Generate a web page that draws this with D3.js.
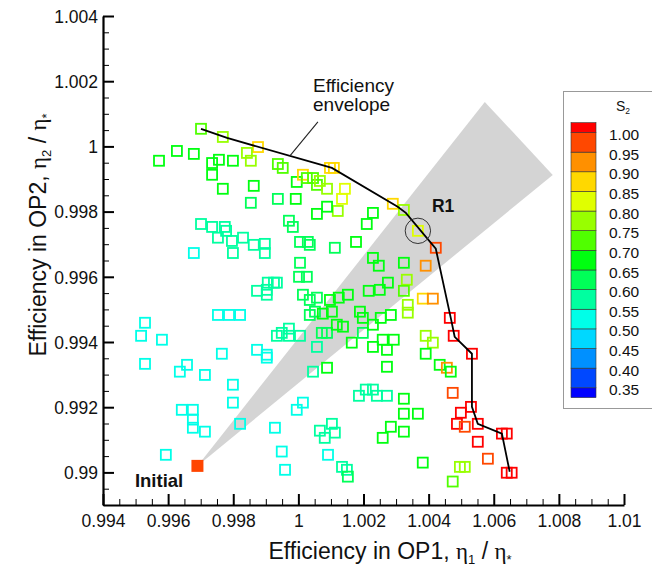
<!DOCTYPE html>
<html><head><meta charset="utf-8">
<script src="https://cdn.jsdelivr.net/npm/d3@7"></script>
<style>body{margin:0;background:#fff}svg{display:block}text{font-family:"Liberation Sans",Arial,sans-serif}</style>
</head><body>
<svg id="c" width="652" height="571"></svg>
<script>
// ---- data ----
const xTicks = [0.994,0.996,0.998,1.000,1.002,1.004,1.006,1.008,1.010];
const xTickLabels = ["0.994","0.996","0.998","1","1.002","1.004","1.006","1.008","1.01"];
const yTicks = [0.990,0.992,0.994,0.996,0.998,1.000,1.002,1.004];
const yTickLabels = ["0.99","0.992","0.994","0.996","0.998","1","1.002","1.004"];
const legendLabels = ["1.00","0.95","0.90","0.85","0.80","0.75","0.70","0.65","0.60","0.55","0.50","0.45","0.40","0.35"];
const levelThresholds = [0.35,0.40,0.45,0.50,0.55,0.60,0.65,0.70,0.75,0.80,0.85,0.90,0.95,1.00];
const levelColors = ["#0000ff","#0048ff","#0090ff","#00d8ff","#00ffe8","#00ffa0","#00ff58","#00ff10","#50ff00","#98ff00","#e0ff00","#ffd800","#ff9000","#ff4800","#ff0000"];
// [eta1, eta2, S2]
const designPoints = [
[0.99701,1.00054,0.72],[0.99768,1.00029,0.77],[0.99876,0.99998,0.87],[0.99842,0.99980,0.77],[0.99854,0.99956,0.77],
[0.99572,0.99956,0.67],[0.99627,0.99986,0.67],[0.99679,0.99977,0.67],[0.99735,0.99949,0.67],[0.99756,0.99959,0.67],
[0.99799,0.99956,0.67],[0.99735,0.99913,0.67],[0.99768,0.99870,0.67],[0.99937,0.99946,0.72],[0.99952,0.99934,0.72],
[0.99863,0.99879,0.67],[0.99854,0.99827,0.62],[0.99937,0.99839,0.62],[0.99992,0.99839,0.67],[0.99995,0.99891,0.67],
[1.00014,0.99913,0.87],[1.00026,0.99903,0.72],[1.00045,0.99903,0.72],[1.00057,0.99882,0.72],[1.00066,0.99894,0.77],
[1.00088,0.99870,0.77],[1.00097,0.99934,0.87],[1.00109,0.99934,0.87],[1.00143,0.99870,0.82],[1.00134,0.99839,0.82],
[1.00121,0.99802,0.77],[1.00088,0.99815,0.67],[1.00057,0.99793,0.67],[0.99971,0.99772,0.62],[0.99983,0.99753,0.62],
[1.00005,0.99707,0.62],[1.00029,0.99707,0.62],[1.00035,0.99698,0.62],[1.00112,0.99689,0.62],[1.00177,0.99707,0.67],
[1.00210,0.99762,0.67],[1.00229,0.99796,0.67],[0.99701,0.99762,0.57],[0.99735,0.99753,0.57],[0.99774,0.99753,0.57],
[0.99778,0.99741,0.57],[0.99753,0.99720,0.57],[0.99796,0.99710,0.57],[0.99830,0.99720,0.57],[0.99799,0.99673,0.57],
[0.99863,0.99698,0.57],[0.99897,0.99701,0.57],[0.99897,0.99673,0.57],[0.99679,0.99673,0.52],[1.00290,0.99824,0.87],
[1.00324,0.99805,0.77],[1.00367,0.99741,0.82],[1.00422,0.99689,0.97],[1.00229,0.99658,0.67],[1.00247,0.99634,0.67],
[1.00324,0.99643,0.67],[1.00391,0.99634,0.92],[1.00333,0.99591,0.77],[1.00275,0.99582,0.67],[1.00250,0.99560,0.67],
[1.00216,0.99557,0.67],[1.00324,0.99557,0.72],[1.00382,0.99533,0.87],[1.00413,0.99533,0.92],[1.00152,0.99545,0.67],
[1.00124,0.99536,0.67],[1.00097,0.99529,0.67],[1.00057,0.99536,0.62],[1.00014,0.99545,0.62],[1.00035,0.99529,0.62],
[1.00005,0.99643,0.62],[1.00002,0.99600,0.62],[1.00026,0.99600,0.62],[0.99906,0.99582,0.57],[0.99925,0.99582,0.57],
[0.99934,0.99582,0.57],[0.99873,0.99557,0.57],[0.99903,0.99560,0.57],[0.99903,0.99545,0.57],[1.00035,0.99483,0.62],
[1.00051,0.99493,0.62],[1.00075,0.99487,0.67],[1.00103,0.99493,0.67],[1.00189,0.99493,0.67],[1.00198,0.99474,0.67],
[0.99753,0.99483,0.52],[0.99787,0.99483,0.52],[0.99821,0.99483,0.52],[0.99529,0.99459,0.52],[0.99517,0.99419,0.52],
[0.99581,0.99407,0.52],[0.99949,0.99428,0.57],[0.99934,0.99419,0.57],[0.99971,0.99441,0.57],[0.99971,0.99419,0.57],
[1.00005,0.99419,0.57],[1.00072,0.99428,0.62],[1.00088,0.99428,0.62],[1.00118,0.99453,0.67],[1.00137,0.99447,0.67],
[1.00164,0.99398,0.67],[1.00198,0.99428,0.62],[1.00057,0.99385,0.57],[0.99529,0.99333,0.52],[0.99636,0.99309,0.52],
[0.99658,0.99330,0.52],[0.99713,0.99299,0.52],[0.99765,0.99364,0.52],[0.99873,0.99376,0.52],[0.99903,0.99361,0.52],
[0.99903,0.99352,0.52],[1.00045,0.99309,0.57],[1.00088,0.99321,0.67],[0.99799,0.99269,0.52],[0.99799,0.99214,0.52],
[0.99642,0.99192,0.52],[0.99676,0.99192,0.52],[0.99676,0.99162,0.52],[0.99676,0.99137,0.52],[0.99713,0.99125,0.52],
[0.99821,0.99149,0.52],[0.99928,0.99137,0.52],[0.99995,0.99192,0.52],[1.00014,0.99214,0.52],[1.00066,0.99128,0.57],
[1.00103,0.99149,0.57],[1.00112,0.99122,0.57],[1.00081,0.99106,0.57],[1.00186,0.99235,0.57],[1.00207,0.99254,0.57],
[1.00229,0.99254,0.57],[1.00241,0.99235,0.57],[1.00272,0.99235,0.57],[0.99593,0.99054,0.52],[0.99949,0.99064,0.52],
[0.99959,0.99008,0.52],[1.00091,0.99054,0.52],[1.00134,0.99017,0.57],[1.00149,0.99008,0.57],[1.00152,0.98987,0.62],
[1.00259,0.99106,0.67],[1.00336,0.99514,0.77],[1.00336,0.99490,0.77],[1.00229,0.99453,0.67],[1.00253,0.99474,0.67],
[1.00284,0.99483,0.67],[1.00229,0.99385,0.67],[1.00259,0.99407,0.67],[1.00293,0.99407,0.67],[1.00272,0.99376,0.67],
[1.00391,0.99419,0.77],[1.00413,0.99398,0.77],[1.00391,0.99364,0.67],[1.00434,0.99330,0.67],[1.00456,0.99321,0.92],
[1.00468,0.99309,0.67],[1.00465,0.99474,1.01],[1.00477,0.99419,1.01],[1.00533,0.99364,1.01],[1.00272,0.99324,0.67],
[1.00474,0.99244,0.97],[1.00324,0.99226,0.67],[1.00324,0.99180,0.67],[1.00367,0.99180,0.67],[1.00284,0.99140,0.67],
[1.00324,0.99125,0.67],[1.00530,0.99201,1.01],[1.00499,0.99183,1.01],[1.00487,0.99149,1.01],[1.00511,0.99140,0.97],
[1.00551,0.99149,1.01],[1.00625,0.99119,1.01],[1.00640,0.99119,1.01],[1.00551,0.99094,1.01],[1.00582,0.99042,0.97],
[1.00382,0.99030,0.67],[1.00496,0.99017,0.77],[1.00511,0.99017,0.77],[1.00640,0.98999,1.01],[1.00655,0.98999,1.01],
[1.00474,0.98972,0.72]
];
const envelopeEta1 = [0.99701,0.99781,1.00103,1.00305,1.00330,1.00422,1.00468,1.00480,1.00533,1.00533,1.00551,1.00625,1.00649];
const envelopeEta2 = [1.00054,1.00026,0.99934,0.99815,0.99796,0.99686,0.99474,0.99416,0.99364,0.99201,0.99149,0.99119,0.99002];
const initialPoint = [0.9969, 0.9902];
const wedgeEta1 = [0.9969, 1.005725, 1.007812];
const wedgeEta2 = [0.9902, 1.001364, 0.999126];
const r1Point = [1.00367, 0.99741];

// ---- chart ----
const svg = d3.select("#c");
const x = d3.scaleLinear().domain([0.994, 1.010]).range([103, 624]);
const y = d3.scaleLinear().domain([0.989, 1.004]).range([505, 16]);
const color = d3.scaleThreshold().domain(levelThresholds).range(levelColors);

// wedge
svg.append("path")
  .attr("d", d3.line()(wedgeEta1.map((v,i)=>[x(v), y(wedgeEta2[i])])) + "Z")
  .attr("fill", "#d4d4d4");

// design squares
const sq = 10;
svg.append("g").selectAll("rect").data(designPoints).join("rect")
  .attr("x", d => x(d[0]) - sq/2).attr("y", d => y(d[1]) - sq/2)
  .attr("width", sq).attr("height", sq)
  .attr("fill", "none").attr("stroke", d => color(d[2])).attr("stroke-width", 1.8);

// envelope
svg.append("path")
  .attr("d", d3.line()(envelopeEta1.map((v,i)=>[x(v), y(envelopeEta2[i])])))
  .attr("fill", "none").attr("stroke", "#000").attr("stroke-width", 1.8);

// leader line
svg.append("line")
  .attr("x1", x(1.00060)).attr("y1", y(1.00075))
  .attr("x2", x(0.99974)).attr("y2", y(0.99971))
  .attr("stroke", "#222").attr("stroke-width", 1.1);
const ann = svg.append("text").attr("font-size", 19).attr("fill", "#111");
ann.append("tspan").attr("x", x(1.00045)).attr("y", y(1.00168)).text("Efficiency");
ann.append("tspan").attr("x", x(1.00045)).attr("y", y(1.001088)).text("envelope");

// R1
svg.append("circle").attr("cx", x(r1Point[0])).attr("cy", y(r1Point[1])).attr("r", 12.7)
  .attr("fill", "none").attr("stroke", "#333").attr("stroke-width", 1);
svg.append("text").attr("x", x(1.00410)).attr("y", y(0.99799))
  .attr("font-size", 17.5).attr("font-weight", "bold").attr("fill", "#111").text("R1");

// initial
svg.append("rect").attr("x", x(initialPoint[0]) - 6).attr("y", y(initialPoint[1]) - 6)
  .attr("width", 12).attr("height", 12).attr("fill", "#ff4500");
svg.append("text").attr("x", x(0.99498)).attr("y", y(0.98956))
  .attr("font-size", 18.5).attr("font-weight", "bold").attr("fill", "#111").text("Initial");

// axes
const minorX = d3.range(0, 33).filter(i => i % 4).map(i => 0.994 + i * 0.0005);
const minorY = d3.range(0, 31).filter(i => (i - 2) % 4).map(i => 0.989 + i * 0.0005);
const gx = svg.append("g").attr("transform", "translate(0,505)");
gx.call(d3.axisBottom(x).tickValues(minorX).tickFormat("").tickSize(-6).tickSizeOuter(0));
gx.select(".domain").remove();
gx.selectAll("line").attr("stroke-width", 1);
const gx2 = svg.append("g").attr("transform", "translate(0,505)");
gx2.call(d3.axisBottom(x).tickValues(xTicks).tickFormat((d,i)=>xTickLabels[i]).tickSize(-11).tickSizeOuter(0).tickPadding(10));
gx2.select(".domain").attr("stroke-width", 2.2);
gx2.selectAll("line").attr("stroke-width", 2);
gx2.selectAll("text").attr("font-size", 17.5).attr("fill", "#111").style("font-family", '"Liberation Sans",Arial,sans-serif');

const gy = svg.append("g").attr("transform", "translate(103,0)");
gy.call(d3.axisLeft(y).tickValues(minorY).tickFormat("").tickSize(-6).tickSizeOuter(0));
gy.select(".domain").remove();
gy.selectAll("line").attr("stroke-width", 1);
const gy2 = svg.append("g").attr("transform", "translate(103,0)");
gy2.call(d3.axisLeft(y).tickValues(yTicks).tickFormat((d,i)=>yTickLabels[i]).tickSize(-11).tickSizeOuter(0).tickPadding(5));
gy2.select(".domain").attr("stroke-width", 2.2);
gy2.selectAll("line").attr("stroke-width", 2);
gy2.selectAll("text").attr("font-size", 17.5).attr("fill", "#111").attr("dy", "0.36em").style("font-family", '"Liberation Sans",Arial,sans-serif');

// axis titles
function title(sel, sub) {
  sel.append("tspan").text("Efficiency in OP" + sub + ", ");
  sel.append("tspan").attr("font-family", '"Liberation Serif",serif').text("η");
  sel.append("tspan").attr("font-size", 13).attr("dy", 5).text(sub);
  sel.append("tspan").attr("dy", -5).text(" / ");
  sel.append("tspan").attr("font-family", '"Liberation Serif",serif').text("η");
  sel.append("tspan").attr("font-size", 13).attr("dy", 5).text("*");
}
const tx = svg.append("text").attr("x", 390).attr("y", 559).attr("text-anchor", "middle")
  .attr("font-size", 23).attr("fill", "#111");
title(tx, "1");
const ty = svg.append("text").attr("transform", "translate(46,235) rotate(-90)").attr("text-anchor", "middle")
  .attr("font-size", 23).attr("fill", "#111");
title(ty, "2");

// legend
svg.append("rect").attr("x", 563.5).attr("y", 91.5).attr("width", 95).attr("height", 317)
  .attr("fill", "#fff").attr("stroke", "#999").attr("stroke-width", 1);
const yL = d3.scaleLinear().domain([1.00, 0.35]).range([132.5, 387.8]);
const bounds = [0.325].concat(levelThresholds).concat([1.025]);
const cells = d3.range(bounds.length - 1).map(i => [bounds[i], bounds[i+1]]);
svg.append("g").selectAll("rect").data(cells).join("rect")
  .attr("x", 571).attr("width", 25)
  .attr("y", d => yL(d[1])).attr("height", d => yL(d[0]) - yL(d[1]))
  .attr("fill", d => color((d[0] + d[1]) / 2))
  .attr("stroke", "#333").attr("stroke-width", 0.6);
svg.append("g").selectAll("text").data(legendLabels).join("text")
  .attr("x", 609).attr("y", d => yL(+d) + 2).attr("dy", "0.36em")
  .attr("font-size", 15.5).attr("fill", "#111").text(d => d);
const st = svg.append("text").attr("x", 616).attr("y", 110.5).attr("font-size", 14).attr("fill", "#111");
st.append("tspan").text("S");
st.append("tspan").attr("font-size", 8.5).attr("dy", 3).text("2");
</script>
</body></html>
